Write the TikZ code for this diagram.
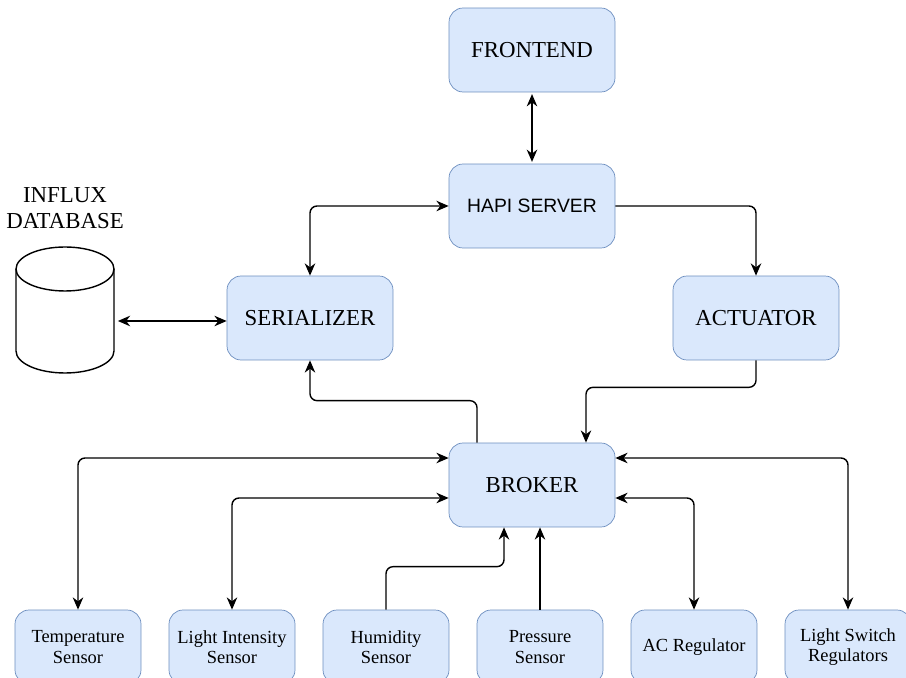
\documentclass[tikz,border=0pt]{standalone}
\usepackage{fontspec}
\setmainfont{Liberation Serif}
\newfontfamily\arialfont{Liberation Sans}
\usetikzlibrary{arrows.meta}
\definecolor{boxfill}{HTML}{DAE8FC}
\definecolor{boxline}{HTML}{6C8EBF}
\tikzset{
	box/.style={draw=boxline, fill=boxfill, rounded corners=8pt, minimum width=3.32cm, minimum height=1.68cm, font=\fontsize{13}{15}\selectfont},
	sensor/.style={box, minimum width=2.52cm, minimum height=1.48cm, align=center, font=\fontsize{10.5}{11.5}\selectfont},
	link/.style={thick, rounded corners=4pt, >={Stealth[length=7pt,width=6pt]}}
}
\begin{document}
\begin{tikzpicture}[x=0.02cm, y=-0.02cm]
	\useasboundingbox (0, 0) rectangle (906, 678);

	\node[box] (front) at (532, 50) {FRONTEND};
	\node[box, font=\arialfont\fontsize{11}{13}\selectfont] (hapi) at (532, 206) {HAPI SERVER};
	\node[box] (ser) at (310, 318) {SERIALIZER};
	\node[box] (act) at (756, 318) {ACTUATOR};
	\node[box] (brk) at (532, 485) {BROKER};

	% database cylinder
	\node[minimum width=1.96cm, minimum height=2.52cm, inner sep=0pt] (db) at (65, 310) {};
	\draw[thick] (65, 269) ellipse [x radius=0.98cm, y radius=0.44cm];
	\draw[thick] (16, 269) -- (16, 351) arc[start angle=180, end angle=360, x radius=0.98cm, y radius=0.44cm] -- (114, 269);
	\node[align=center, font=\fontsize{13}{14.5}\selectfont] (dblabel) at (65, 208) {INFLUX\\DATABASE};

	\node[sensor] (s1) at (78, 647) {Temperature\\Sensor};
	\node[sensor] (s2) at (232, 647) {Light Intensity\\Sensor};
	\node[sensor] (s3) at (386, 647) {Humidity\\Sensor};
	\node[sensor] (s4) at (540, 647) {Pressure\\Sensor};
	\node[sensor] (s5) at (694, 647) {AC Regulator};
	\node[sensor] (s6) at (848, 647) {Light Switch\\Regulators};

	\draw[link, <->, shorten <=1pt, shorten >=1pt] (front) -- (hapi);
	\draw[link, <->] (hapi.west) -| (ser.north);
	\draw[link, ->] (hapi.east) -| (act.north);
	\draw[link, <->, shorten <=2pt] (db.east |- 0, 321) -- (ser.west |- 0, 321);
	\draw[link, ->] ([xshift=-1.1cm]brk.north) -- ++(0, 0.84cm) -| (ser.south);
	\draw[link, ->] (act.south) -- ++(0, -0.54cm) -| ([xshift=1.08cm]brk.north);

	\draw[link, <->] ([yshift=0.54cm]brk.west) -| (s1.north);
	\draw[link, <->] ([yshift=-0.26cm]brk.west) -| (s2.north);
	\draw[link, ->] (s3.north) -- ++(0, 0.86cm) -| ([xshift=-0.56cm]brk.south);
	\draw[link, ->] (s4.north) -- (s4.north |- brk.south);
	\draw[link, <->] ([yshift=-0.26cm]brk.east) -| (s5.north);
	\draw[link, <->] ([yshift=0.54cm]brk.east) -| (s6.north);
\end{tikzpicture}
\end{document}
